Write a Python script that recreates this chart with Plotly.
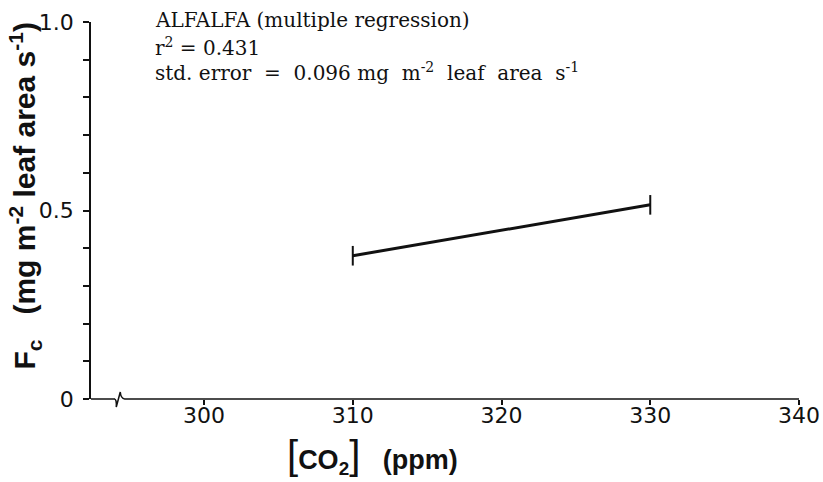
import plotly.graph_objects as go

# Data
co2_ppm = [310, 330]
fc_values = [0.38, 0.515]
x_tick_vals = [300, 310, 320, 330, 340]
x_tick_text = ["300", "310", "320", "330", "340"]
y_tick_vals = [0, 0.5, 1.0]
y_tick_text = ["0", "0.5", "1.0"]
x_range = [292.4, 340]
y_range = [0, 1.0]
break_x = 294.2

TICK_FONT = dict(family="DejaVu Sans, Liberation Sans, Arial", size=22, color="#111")
SERIF = dict(family="DejaVu Serif, Liberation Serif, serif", size=20, color="#111")
INK = "#111"

fig = go.Figure()
fig.add_trace(go.Scatter(
    x=co2_ppm, y=fc_values, mode="lines+markers",
    line=dict(color=INK, width=3),
    marker=dict(symbol="line-ns", size=14, line=dict(color=INK, width=2)),
    showlegend=False, hoverinfo="skip",
))

fig.update_layout(
    width=823, height=482,
    margin=dict(l=91, r=24, t=21.5, b=82.5, autoexpand=False),
    paper_bgcolor="white", plot_bgcolor="white",
    xaxis=dict(range=x_range, tickvals=x_tick_vals, ticktext=x_tick_text,
               showline=False, ticks="outside",
               ticklen=5, tickwidth=1.5, tickcolor=INK, showgrid=False,
               zeroline=False, tickfont=TICK_FONT, ticklabelstandoff=-8),
    yaxis=dict(range=y_range, tickvals=y_tick_vals, ticktext=y_tick_text,
               showline=True, linecolor=INK, linewidth=1.5, ticks="outside",
               ticklen=6, tickwidth=1.5, tickcolor=INK, showgrid=False,
               zeroline=False, tickfont=TICK_FONT, ticklabelstandoff=5,
               minor=dict(dtick=0.1, ticks="outside", ticklen=6, tickwidth=1.5,
                          tickcolor=INK, showgrid=False)),
)

# x axis line drawn in two pieces with a break symbol
fig.add_shape(type="line", xref="x", yref="paper", x0=x_range[0], x1=break_x - 0.2, y0=0, y1=0,
              line=dict(color=INK, width=1.5), layer="above")
fig.add_shape(type="line", xref="x", yref="paper", x0=break_x + 0.45, x1=x_range[1], y0=0, y1=0,
              line=dict(color=INK, width=1.5), layer="above")
fig.add_shape(type="path", xref="x", yref="paper", xsizemode="pixel", ysizemode="pixel",
              xanchor=break_x, yanchor=0,
              path="M -3.5,0 Q -1,0 -1.5,-8 L 2.5,7 Q 3,0.5 7,0",
              line=dict(color=INK, width=1.5), layer="above")

# text block
fig.add_annotation(xref="paper", yref="paper", x=0.0876, y=1.006, xanchor="left", yanchor="middle",
                   text="ALFALFA (multiple regression)", showarrow=False, font=SERIF)
fig.add_annotation(xref="paper", yref="paper", x=0.0876, y=0.934, xanchor="left", yanchor="middle",
                   text="r<sup>2</sup> = 0.431", showarrow=False, font=SERIF)
fig.add_annotation(xref="paper", yref="paper", x=0.0876, y=0.868, xanchor="left", yanchor="middle",
                   text="std. error&nbsp;&nbsp;=&nbsp;&nbsp;0.096 mg&nbsp; m<sup>-2</sup>&nbsp; leaf&nbsp; area&nbsp; s<sup>-1</sup>",
                   showarrow=False, font=SERIF)

# axis titles
fig.add_annotation(xref="paper", yref="paper", x=-0.093, y=0.54,
                   xanchor="center", yanchor="middle", textangle=-90,
                   text="<b>F<sub>c</sub>&nbsp;&nbsp;&nbsp;(mg m<sup>-2</sup> leaf area s<sup>-1</sup>)</b>",
                   showarrow=False, font=dict(family="Liberation Sans, Arial", size=30, color=INK))
fig.add_annotation(xref="paper", yref="paper", x=0.397, y=-0.15,
                   xanchor="center", yanchor="middle",
                   text="<span style='font-size:40px'>[</span><b>CO<sub>2</sub></b><span style='font-size:40px'>]</span>&nbsp;&nbsp;&nbsp;<b>(ppm)</b>",
                   showarrow=False, font=dict(family="Liberation Sans, Arial", size=27, color=INK))

fig.write_html("out.html")
